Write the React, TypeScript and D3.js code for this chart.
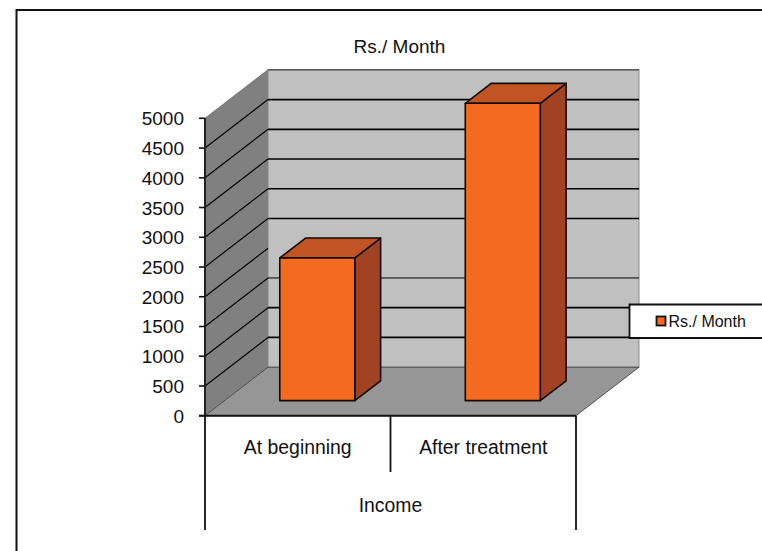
import React from "react";
import * as d3 from "d3";

const categories = ["At beginning", "After treatment"];
const incomeValues = [2400, 5000];
const groupLabel = "Income";
const seriesName = "Rs./ Month";
const yTicks = [0, 500, 1000, 1500, 2000, 2500, 3000, 3500, 4000, 4500, 5000];

const WIDTH = 762;
const HEIGHT = 551;
const FONT = "'Liberation Sans', Arial, sans-serif";

// Oblique projection of the chart box: depth moves right and up.
const DEPTH_X = 63;
const DEPTH_Y = -48.5;
const BAR_NEAR = 0.31;
const BAR_FAR = 0.72;
const BAR_WIDTH = 75;

// The back wall drops one gridline and draws another one thinner.
const ABSENT_BACK_GRIDLINE = 2000;
const THIN_BACK_GRIDLINE = 1500;

const x = d3.scaleBand<string>().domain(categories).range([205, 576]);
const y = d3.scaleLinear().domain([0, 5000]).range([415.7, 118.3]);

const pts = (p: [number, number][]) => p.map((d) => d.join(",")).join(" ");

function Bar({ category, value }: { category: string; value: number }) {
  const cx = x(category)! + x.bandwidth() / 2 + BAR_NEAR * DEPTH_X;
  const x0 = cx - BAR_WIDTH / 2;
  const x1 = cx + BAR_WIDTH / 2;
  const base = y(0) + BAR_NEAR * DEPTH_Y;
  const top = base - (y(0) - y(value));
  const dx = (BAR_FAR - BAR_NEAR) * DEPTH_X;
  const dy = (BAR_FAR - BAR_NEAR) * DEPTH_Y;
  const stroke = { stroke: "#120a06", strokeWidth: 1.6, strokeLinejoin: "round" as const };
  return (
    <g>
      <polygon
        points={pts([[x1, base], [x1 + dx, base + dy], [x1 + dx, top + dy], [x1, top]])}
        fill="#a14222"
        {...stroke}
      />
      <polygon
        points={pts([[x0, top], [x0 + dx, top + dy], [x1 + dx, top + dy], [x1, top]])}
        fill="#c25423"
        {...stroke}
      />
      <rect x={x0} y={top} width={BAR_WIDTH} height={base - top} fill="#f56a21" {...stroke} />
    </g>
  );
}

export default function App() {
  const left = x.range()[0];
  const right = x.range()[1];
  const floorY = y(0);
  const topY = y(5000);
  const split = x(categories[1])!;
  const wallX = left + DEPTH_X;

  return (
    <svg
      width={WIDTH}
      height={HEIGHT}
      viewBox={`0 0 ${WIDTH} ${HEIGHT}`}
      style={{ position: "absolute", left: 0, top: 0, background: "#fff" }}
      fontFamily={FONT}
      fill="#111"
    >
      {/* Outer frame, open past the right and bottom edges */}
      <path d={`M${WIDTH},10H16.5V${HEIGHT}`} fill="none" stroke="#111" strokeWidth={2} />

      <text x={399.5} y={53} fontSize={19} textAnchor="middle">{seriesName}</text>

      {/* Walls and floor */}
      <rect
        x={wallX}
        y={topY + DEPTH_Y}
        width={right - left}
        height={floorY - topY}
        fill="#c0c0c0"
        stroke="#8c8c8c"
      />
      <line
        x1={wallX}
        x2={right + DEPTH_X}
        y1={topY + DEPTH_Y}
        y2={topY + DEPTH_Y}
        stroke="#555"
        strokeWidth={1.4}
      />
      <polygon
        points={pts([
          [left, topY],
          [wallX, topY + DEPTH_Y],
          [wallX, floorY + DEPTH_Y],
          [left, floorY],
        ])}
        fill="#808080"
      />
      <polygon
        points={pts([
          [left, floorY],
          [wallX, floorY + DEPTH_Y],
          [right + DEPTH_X, floorY + DEPTH_Y],
          [right, floorY],
        ])}
        fill="#969696"
        stroke="#333"
        strokeWidth={0.8}
      />

      {/* Gridlines run along the side wall and across the back wall */}
      {yTicks.slice(1).map((t) => {
        const wallY = y(t) + DEPTH_Y;
        if (t === 5000) {
          return <line key={t} x1={left} y1={y(t)} x2={wallX} y2={wallY} stroke="#666" strokeWidth={0.8} />;
        }
        return (
          <g key={t} stroke="#000" fill="none">
            <line x1={left} y1={y(t)} x2={wallX} y2={wallY} strokeWidth={1.1} />
            {t !== ABSENT_BACK_GRIDLINE && (
              <line
                x1={wallX}
                y1={wallY}
                x2={right + DEPTH_X}
                y2={wallY}
                strokeWidth={t === THIN_BACK_GRIDLINE ? 1 : 1.7}
              />
            )}
          </g>
        );
      })}

      {categories.map((c, i) => (
        <Bar key={c} category={c} value={incomeValues[i]} />
      ))}

      {/* Value axis */}
      <line x1={left} x2={left} y1={topY} y2={floorY} stroke="#222" strokeWidth={2} />
      {yTicks.map((t) => (
        <g key={t}>
          <line x1={left - 6} x2={left} y1={y(t)} y2={y(t)} stroke="#111" strokeWidth={1.6} />
          <text x={184} y={y(t) + 7} fontSize={19} textAnchor="end">{t}</text>
        </g>
      ))}

      {/* Two-level category axis */}
      <g stroke="#111" strokeWidth={1.8}>
        <line x1={left - 6} x2={right} y1={floorY} y2={floorY} strokeWidth={2} />
        <line x1={left} x2={left} y1={floorY} y2={530} />
        <line x1={split} x2={split} y1={floorY} y2={472} />
        <line x1={right} x2={right} y1={floorY} y2={530} />
      </g>
      {categories.map((c) => (
        <text key={c} x={x(c)! + x.bandwidth() / 2} y={454} fontSize={19.4} textAnchor="middle">{c}</text>
      ))}
      <text x={(left + right) / 2} y={512} fontSize={19.4} textAnchor="middle">{groupLabel}</text>

      {/* Legend box */}
      <path d={`M${WIDTH},304.5H629.5V338H${WIDTH}`} fill="#fff" stroke="#111" strokeWidth={1.8} />
      <rect x={656.5} y={316.5} width={9} height={9} fill="#f56a21" stroke="#111" strokeWidth={1.8} />
      <text x={668.5} y={327} fontSize={16}>{seriesName}</text>
    </svg>
  );
}
